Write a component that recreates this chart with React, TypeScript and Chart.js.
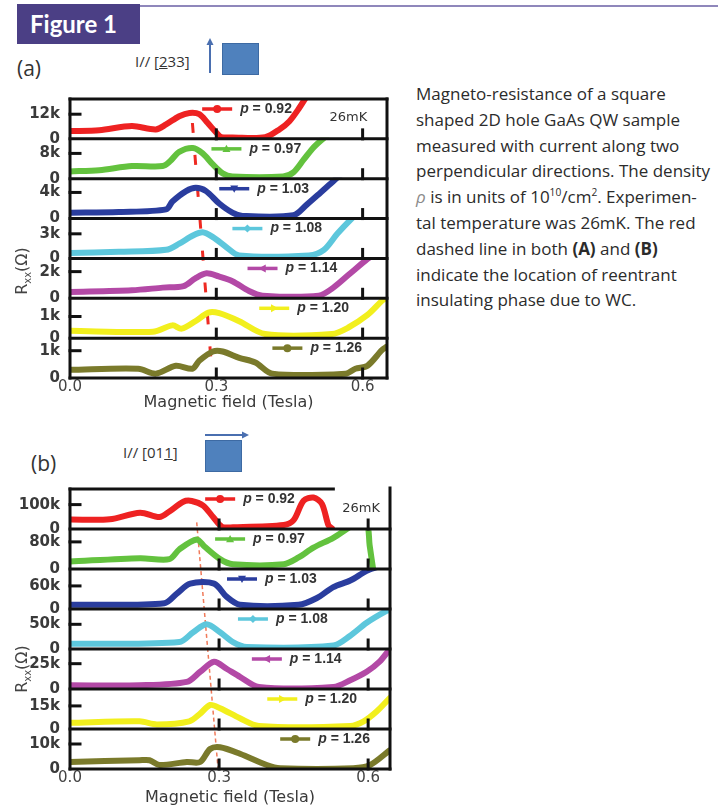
import React, { useEffect, useRef } from 'react';
import { Chart, registerables } from 'chart.js';

Chart.register(...registerables);

// ---------------- shared ----------------
const densities = ['0.92', '0.97', '1.03', '1.08', '1.14', '1.20', '1.26'];
const seriesColors = ['#ee2222', '#63c23e', '#2a3d9e', '#5dc7dc', '#b349a6', '#f2ef1d', '#7a7a2b'];
const markerShapes = ['circle', 'triUp', 'triDown', 'diamond', 'triLeft', 'triRight', 'circle'];
const xTickValues = [0, 0.3, 0.6];
const xTickMarks = [0.3, 0.6];

// ---------------- panel (a): I // [2̄33], R in kΩ ----------------
const aB092 = [0, 0.06, 0.127, 0.176, 0.197, 0.224, 0.245, 0.265, 0.282, 0.3, 0.31, 0.333, 0.4, 0.43, 0.45, 0.47, 0.485, 0.5];
const aR092 = [3.8, 4.2, 6.2, 4.6, 7.0, 11.0, 12.6, 12.0, 7.8, 3.0, 0.9, 0.7, 0.8, 4.7, 8.6, 15, 20.6, 26];
const aB097 = [0, 0.06, 0.127, 0.19, 0.205, 0.224, 0.252, 0.272, 0.293, 0.313, 0.333, 0.437, 0.458, 0.479, 0.497, 0.514, 0.53];
const aR097 = [2.3, 2.7, 4.0, 4.0, 5.5, 8.5, 9.7, 8.0, 4.5, 1.7, 0.7, 0.7, 2.0, 6.0, 9.5, 12.0, 14];
const aB103 = [0, 0.1, 0.197, 0.21, 0.238, 0.258, 0.279, 0.306, 0.333, 0.354, 0.458, 0.485, 0.514, 0.541, 0.56];
const aR103 = [0.9, 1.0, 1.4, 2.6, 4.2, 4.7, 4.2, 2.3, 0.9, 0.4, 0.5, 2.1, 4.0, 5.8, 7];
const aB108 = [0, 0.1, 0.197, 0.224, 0.252, 0.272, 0.293, 0.32, 0.347, 0.49, 0.52, 0.548, 0.575, 0.59];
const aR108 = [0.65, 0.8, 1.05, 1.8, 2.8, 3.2, 2.6, 1.4, 0.36, 0.36, 1.0, 3.0, 4.7, 5.5];
const aB114 = [0, 0.127, 0.19, 0.233, 0.257, 0.28, 0.305, 0.333, 0.367, 0.395, 0.51, 0.54, 0.575, 0.61, 0.62];
const aR114 = [0.48, 0.6, 0.8, 0.92, 1.5, 1.88, 1.64, 1.28, 0.55, 0.2, 0.2, 0.8, 1.88, 2.96, 3.2];
const aB120 = [0, 0.17, 0.21, 0.229, 0.257, 0.284, 0.306, 0.347, 0.4, 0.537, 0.57, 0.61, 0.64, 0.65];
const aR120 = [0.34, 0.3, 0.59, 0.44, 0.78, 1.18, 1.15, 0.78, 0.19, 0.19, 0.48, 1.07, 1.73, 1.9];
const aB126 = [0, 0.14, 0.176, 0.217, 0.251, 0.265, 0.293, 0.313, 0.347, 0.38, 0.415, 0.565, 0.585, 0.61, 0.64, 0.65];
const aR126 = [0.3, 0.34, 0.16, 0.45, 0.34, 0.63, 0.97, 0.97, 0.74, 0.57, 0.16, 0.16, 0.34, 0.45, 1.03, 1.15];
const aAxisMax = [19.4, 12.6, 6.1, 4.86, 2.99, 1.84, 1.46];
const aTickValues = [12, 8, 4, 3, 2, 1, 1];
const aGuideB = [0.251, 0.292];
const aGuideFrac = [0.914, 0];

// ---------------- panel (b): I // [011̄], R in kΩ ----------------
const bB092 = [0, 0.08, 0.141, 0.18, 0.2, 0.228, 0.245, 0.268, 0.288, 0.306, 0.328, 0.43, 0.45, 0.47, 0.49, 0.507, 0.52, 0.527];
const bR092 = [39, 40, 67, 49, 72, 112, 115, 96, 49, 9, 7, 16, 36, 116, 129, 103, 16, 3];
const bB097 = [0, 0.141, 0.2, 0.22, 0.255, 0.27, 0.302, 0.328, 0.43, 0.46, 0.49, 0.53, 0.557, 0.575, 0.597, 0.603, 0.61];
const bR097 = [22, 32, 29, 58, 87, 67, 29, 14, 14, 34, 63, 92, 118, 135, 135, 70, 0];
const bB103 = [0, 0.19, 0.215, 0.242, 0.29, 0.315, 0.342, 0.46, 0.496, 0.53, 0.564, 0.597, 0.62];
const bR103 = [11, 15, 40, 66, 66, 32, 11, 11, 28, 57, 74, 99, 110];
const bB108 = [0, 0.22, 0.248, 0.275, 0.302, 0.328, 0.356, 0.53, 0.564, 0.597, 0.637, 0.65];
const bR108 = [10.5, 14, 34, 50, 34, 14, 4, 7, 27, 53, 77, 82];
const bB114 = [0, 0.14, 0.235, 0.262, 0.29, 0.315, 0.342, 0.38, 0.53, 0.564, 0.597, 0.623, 0.643];
const bR114 = [3.7, 3.7, 7, 17, 27, 20, 12, 2, 2, 8.6, 17, 27, 39];
const bB120 = [0, 0.14, 0.175, 0.24, 0.262, 0.282, 0.302, 0.342, 0.38, 0.564, 0.591, 0.617, 0.643];
const bR120 = [4, 5, 3, 5, 10, 15.6, 13.5, 7, 2, 2, 5, 11.4, 20];
const bB126 = [0, 0.14, 0.16, 0.18, 0.235, 0.262, 0.282, 0.302, 0.342, 0.396, 0.423, 0.57, 0.604, 0.643];
const bR126 = [2.8, 3.5, 3.5, 1.6, 2.8, 2.8, 8, 8.7, 6.1, 1.6, 0.3, 0.3, 1.6, 7.4];
const bAxisMax = [164, 118, 104, 81, 39.5, 26, 16];
const bTickValues = [100, 80, 60, 50, 25, 15, 10];
const bGuideB = [0.255, 0.298];
const bGuideFrac = [0.881, 0];

// ---------------- panel specs (layout/style) ----------------
const panelA = {
  top: 80, height: 340, padTop: 8, padRight: 13, axisWidth: 70, xAxisHeight: 42, xMax: 0.65,
  fields: [aB092, aB097, aB103, aB108, aB114, aB120, aB126],
  values: [aR092, aR097, aR103, aR108, aR114, aR120, aR126],
  axisMax: aAxisMax, tickValues: aTickValues,
  guideB: aGuideB, guideFrac: aGuideFrac, guideColor: '#ee2a22', guideWidth: 3, guideDash: [10, 22],
  legendB: [0.271, 0.29, 0.306, 0.333, 0.364, 0.388, 0.415],
  tempB: 0.532, tempDy: 19, topBorderEnd: null as number | null, titleX: 23, titleY: 191,
};
const panelB = {
  top: 470, height: 345, padTop: 13, padRight: 10, axisWidth: 70, xAxisHeight: 46, xMax: 0.644,
  fields: [bB092, bB097, bB103, bB108, bB114, bB120, bB126],
  values: [bR092, bR097, bR103, bR108, bR114, bR120, bR126],
  axisMax: bAxisMax, tickValues: bTickValues,
  guideB: bGuideB, guideFrac: bGuideFrac, guideColor: '#f07a5a', guideWidth: 1.5, guideDash: [4, 3],
  legendB: [0.272, 0.292, 0.316, 0.338, 0.366, 0.397, 0.423],
  tempB: 0.548, tempDy: 20, topBorderEnd: 0.53 as number | null, titleX: 23, titleY: 199,
};

function drawMarker(ctx: CanvasRenderingContext2D, shape: string, x: number, y: number, r: number, color: string) {
  ctx.fillStyle = color;
  ctx.beginPath();
  switch (shape) {
    case 'circle': ctx.arc(x, y, r, 0, Math.PI * 2); break;
    case 'diamond': ctx.moveTo(x, y - r); ctx.lineTo(x + r, y); ctx.lineTo(x, y + r); ctx.lineTo(x - r, y); break;
    case 'triUp': ctx.moveTo(x, y - r); ctx.lineTo(x + r, y + r * 0.8); ctx.lineTo(x - r, y + r * 0.8); break;
    case 'triDown': ctx.moveTo(x, y + r); ctx.lineTo(x + r, y - r * 0.8); ctx.lineTo(x - r, y - r * 0.8); break;
    case 'triLeft': ctx.moveTo(x - r, y); ctx.lineTo(x + r * 0.8, y - r); ctx.lineTo(x + r * 0.8, y + r); break;
    case 'triRight': ctx.moveTo(x + r, y); ctx.lineTo(x - r * 0.8, y - r); ctx.lineTo(x - r * 0.8, y + r); break;
  }
  ctx.closePath();
  ctx.fill();
}

const decorPlugin = {
  id: 'decor',
  afterDatasetsDraw(chart: any, _args: any, opts: any) {
    const ctx: CanvasRenderingContext2D = chart.ctx;
    const area = chart.chartArea;
    const xs = chart.scales.x;
    const subs = opts.axisIds.map((id: string) => chart.scales[id]);
    const seg = (x1: number, y1: number, x2: number, y2: number) => {
      ctx.beginPath(); ctx.moveTo(x1, y1); ctx.lineTo(x2, y2); ctx.stroke();
    };
    ctx.save();
    ctx.strokeStyle = '#111';
    ctx.lineWidth = 3;
    ctx.lineCap = 'square';
    // frame
    seg(area.left, area.top, area.left, area.bottom);
    const topEnd = opts.topBorderEnd == null ? area.right : xs.getPixelForValue(opts.topBorderEnd);
    seg(area.left, area.top, topEnd, area.top);
    const rightTop = opts.topBorderEnd == null ? area.top : area.top - 1;
    seg(area.right, rightTop, area.right, area.bottom);
    subs.forEach((s: any, i: number) => {
      seg(area.left, s.bottom, area.right, s.bottom);
      const py = s.getPixelForValue(opts.tickValues[i]);
      seg(area.left, py, area.left + 10, py);
      xTickMarks.forEach((v) => {
        const px = xs.getPixelForValue(v);
        seg(px, s.bottom, px, s.bottom - 9);
      });
    });
    ctx.lineCap = 'butt';
    // inline legends
    subs.forEach((s: any, i: number) => {
      const lx = xs.getPixelForValue(opts.legendB[i]);
      const ly = s.top + 10;
      ctx.strokeStyle = seriesColors[i];
      ctx.lineWidth = 3.5;
      seg(lx, ly, lx + 30, ly);
      drawMarker(ctx, markerShapes[i], lx + 15, ly, 4, seriesColors[i]);
      ctx.fillStyle = '#333';
      ctx.textAlign = 'left';
      ctx.textBaseline = 'middle';
      ctx.font = 'italic bold 14px "Liberation Sans"';
      const tx = lx + 38;
      ctx.fillText('p', tx, ly);
      const pw = ctx.measureText('p').width;
      ctx.font = 'bold 14px "Liberation Sans"';
      ctx.fillText(' = ' + densities[i], tx + pw, ly);
    });
    // temperature label
    ctx.fillStyle = '#333';
    ctx.font = '13px "DejaVu Sans"';
    ctx.textBaseline = 'middle';
    ctx.fillText('26mK', xs.getPixelForValue(opts.tempB), subs[0].top + opts.tempDy);
    // rotated y title R_xx(Ω)
    ctx.translate(opts.titleX, opts.titleY);
    ctx.rotate(-Math.PI / 2);
    ctx.fillStyle = '#444';
    ctx.font = '16px "DejaVu Sans"';
    const w1 = ctx.measureText('R').width;
    const w3 = ctx.measureText('(Ω)').width;
    ctx.font = '10px "DejaVu Sans"';
    const w2 = ctx.measureText('xx').width;
    const start = -(w1 + w2 + w3) / 2;
    ctx.font = '16px "DejaVu Sans"';
    ctx.fillText('R', start, 0);
    ctx.font = '10px "DejaVu Sans"';
    ctx.fillText('xx', start + w1, 5);
    ctx.font = '16px "DejaVu Sans"';
    ctx.fillText('(Ω)', start + w1 + w2, 0);
    ctx.restore();
  },
};

function buildConfig(p: typeof panelA): any {
  const axisIds = p.axisMax.map((_, i) => 's' + i);
  const scales: any = {};
  // inserted bottom-first so that s0 ends on top of the stack
  for (let i = p.axisMax.length - 1; i >= 0; i--) {
    const tick = p.tickValues[i];
    scales['s' + i] = {
      type: 'linear', position: 'left', stack: 'strips', stackWeight: 1,
      min: 0, max: p.axisMax[i],
      afterBuildTicks: (s: any) => { s.ticks = [{ value: 0 }, { value: tick }]; },
      afterFit: (s: any) => { s.width = p.axisWidth; },
      ticks: {
        autoSkip: false, padding: 10, color: '#3a3a3a',
        font: { family: 'DejaVu Sans', size: 15, weight: 'bold' },
        callback: (v: any) => (Number(v) === 0 ? '0' : v + 'k'),
      },
      grid: { display: false, drawTicks: false },
      border: { display: false },
    };
  }
  scales.all = { type: 'linear', position: 'left', display: false, min: 0, max: 1 };
  scales.x = {
    type: 'linear', position: 'bottom', min: 0, max: p.xMax,
    afterBuildTicks: (s: any) => { s.ticks = xTickValues.map((v) => ({ value: v })); },
    afterFit: (s: any) => { s.height = p.xAxisHeight; },
    ticks: {
      autoSkip: false, maxRotation: 0, padding: 0, color: '#444',
      font: { family: 'DejaVu Sans', size: 15, lineHeight: 1.2 },
      callback: (v: any) => Number(v).toFixed(1),
    },
    grid: { display: false, drawTicks: false },
    border: { display: false },
    title: {
      display: true, text: 'Magnetic field (Tesla)', color: '#3a3a3a',
      font: { family: 'DejaVu Sans', size: 16, lineHeight: 1.2 },
      padding: { top: 0, bottom: 7.4 },
    },
  };
  const datasets: any[] = p.fields.map((f, i) => ({
    label: 'p = ' + densities[i],
    data: f.map((x, j) => ({ x, y: p.values[i][j] })),
    xAxisID: 'x', yAxisID: 's' + i,
    borderColor: seriesColors[i], borderWidth: 6,
    borderCapStyle: 'round', borderJoinStyle: 'round',
    pointRadius: 0, fill: false, tension: 0.3, clip: 1,
  }));
  datasets.push({
    label: 'WC',
    data: p.guideB.map((x, j) => ({ x, y: p.guideFrac[j] })),
    xAxisID: 'x', yAxisID: 'all',
    borderColor: p.guideColor, borderWidth: p.guideWidth, borderDash: p.guideDash,
    pointRadius: 0, fill: false, clip: false,
  });
  return {
    type: 'line',
    data: { datasets },
    options: {
      animation: false, responsive: false, maintainAspectRatio: false, events: [],
      layout: { padding: { top: p.padTop, right: p.padRight, left: 0, bottom: 0 } },
      plugins: {
        legend: { display: false }, tooltip: { enabled: false },
        decor: {
          axisIds, tickValues: p.tickValues, legendB: p.legendB, tempB: p.tempB, tempDy: p.tempDy,
          topBorderEnd: p.topBorderEnd, titleX: p.titleX, titleY: p.titleY,
        },
      },
      scales,
    },
    plugins: [decorPlugin],
  };
}

function PanelChart({ spec }: { spec: typeof panelA }) {
  const ref = useRef<HTMLCanvasElement>(null);
  useEffect(() => {
    const chart = new Chart(ref.current as HTMLCanvasElement, buildConfig(spec));
    return () => chart.destroy();
  }, [spec]);
  return (
    <canvas
      ref={ref}
      width={400}
      height={spec.height}
      style={{ position: 'absolute', left: 0, top: spec.top, width: 400, height: spec.height }}
    />
  );
}

const abs = (o: React.CSSProperties): React.CSSProperties => ({ position: 'absolute', ...o });

export default function App() {
  const dark = '#333';
  const blue = '#4f81bd';
  const sup: React.CSSProperties = { fontSize: '0.6em', lineHeight: 0 };
  return (
    <div style={abs({ left: 0, top: 0, width: 718, height: 805, overflow: 'hidden', background: '#fff' })}>
      {/* header */}
      <div style={abs({ left: 140, top: 5, width: 578, height: 2, background: '#8f87bb' })} />
      <div
        style={abs({
          left: 17, top: 4, width: 123, height: 40, background: '#4b3f85', color: '#fff',
          fontFamily: 'Lato', fontWeight: 700, fontSize: 24, lineHeight: '40px', paddingLeft: 13, boxSizing: 'border-box',
        })}
      >
        Figure 1
      </div>

      {/* panel (a) labels */}
      <div style={abs({ left: 17, top: 55, fontFamily: 'Open Sans', fontSize: 21, color: dark, lineHeight: '26px' })}>(a)</div>
      <div style={abs({ left: 135, top: 51, fontFamily: 'Open Sans', fontSize: 15, color: dark, lineHeight: '20px', whiteSpace: 'nowrap' })}>
        I// [<span style={{ textDecoration: 'underline' }}>2</span>33]
      </div>
      <svg style={abs({ left: 200, top: 36, width: 20, height: 40 })} width={20} height={40}>
        <line x1={10} y1={37} x2={10} y2={8} stroke="#4a6fb0" strokeWidth={2} />
        <polygon points="10,2 6.5,9 13.5,9" fill="#4a6fb0" />
      </svg>
      <div style={abs({ left: 222, top: 43, width: 37, height: 32, background: blue, border: '1px solid #3d6aa3', boxSizing: 'border-box' })} />

      {/* panel (b) labels */}
      <div style={abs({ left: 31, top: 450, fontFamily: 'Open Sans', fontSize: 21, color: dark, lineHeight: '26px' })}>(b)</div>
      <div style={abs({ left: 123, top: 442, fontFamily: 'Open Sans', fontSize: 15, color: dark, lineHeight: '20px', whiteSpace: 'nowrap' })}>
        I// [01<span style={{ textDecoration: 'underline' }}>1</span>]
      </div>
      <svg style={abs({ left: 203, top: 429, width: 50, height: 12 })} width={50} height={12}>
        <line x1={2} y1={6} x2={40} y2={6} stroke="#4a6fb0" strokeWidth={2} />
        <polygon points="46,6 39,2.5 39,9.5" fill="#4a6fb0" />
      </svg>
      <div style={abs({ left: 205, top: 440, width: 37, height: 32, background: blue, border: '1px solid #3d6aa3', boxSizing: 'border-box' })} />

      <PanelChart spec={panelA} />
      <PanelChart spec={panelB} />

      {/* caption */}
      <div
        style={abs({
          left: 416, top: 81, fontFamily: 'Open Sans', fontSize: 17, lineHeight: '25.8px', color: '#2b2b2b', whiteSpace: 'nowrap',
        })}
      >
        Magneto-resistance of a square<br />
        shaped 2D hole GaAs QW sample<br />
        measured with current along two<br />
        perpendicular directions. The density<br />
        <span style={{ fontStyle: 'italic', color: '#8a8a8a' }}>ρ</span> is in units of 10<sup style={sup}>10</sup>/cm<sup style={sup}>2</sup>. Experimen-<br />
        tal temperature was 26mK. The red<br />
        dashed line in both <b>(A)</b> and <b>(B)</b><br />
        indicate the location of reentrant<br />
        insulating phase due to WC.
      </div>
    </div>
  );
}
